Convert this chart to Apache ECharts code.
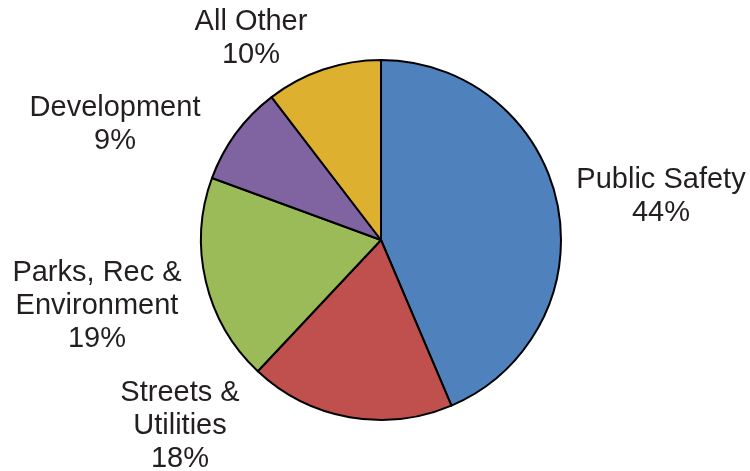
<!DOCTYPE html>
<html>
<head>
<meta charset="utf-8">
<script src="https://cdn.jsdelivr.net/npm/echarts@6/dist/echarts.min.js"></script>
<style>html,body{margin:0;padding:0;background:#fff;}#c{width:750px;height:471px;}</style>
</head>
<body>
<div id="c"></div>
<script>
var categories = ['Public Safety', 'Streets &\nUtilities', 'Parks, Rec &\nEnvironment', 'Development', 'All Other'];
var values = [43.6, 18.4, 18.6, 9.0, 10.4];
var colors = ['#4F81BD', '#C0504D', '#9BBB59', '#8064A2', '#DDB030'];

// label block centres (text placement only)
var labelPos = [[661, 196], [180, 426], [97, 306], [115, 124], [251, 38]];

var chart = echarts.init(document.getElementById('c'), null, {renderer: 'canvas'});
chart.setOption({
  animation: false,
  backgroundColor: '#ffffff',
  series: [{
    type: 'pie',
    center: [381, 240],
    radius: [0, 180],
    startAngle: 90,
    clockwise: true,
    avoidLabelOverlap: false,
    data: categories.map(function (c, i) {
      return {name: c, value: values[i], itemStyle: {color: colors[i]}};
    }),
    itemStyle: {borderColor: '#000000', borderWidth: 2},
    label: {
      show: true,
      position: 'outside',
      formatter: function (p) { return p.name + '\n' + Math.round(p.percent) + '%'; },
      fontFamily: 'Liberation Sans',
      fontSize: 29,
      lineHeight: 33,
      color: '#231f20',
      align: 'center'
    },
    labelLine: {show: false},
    labelLayout: function (params) {
      var p = labelPos[params.dataIndex];
      return {x: p[0], y: p[1], align: 'center', verticalAlign: 'middle'};
    },
    emphasis: {disabled: true}
  }]
});
</script>
</body>
</html>
